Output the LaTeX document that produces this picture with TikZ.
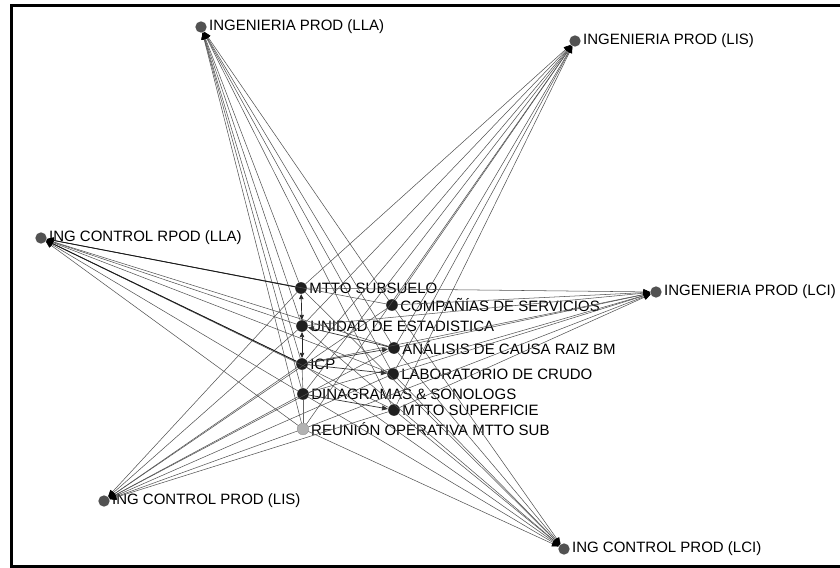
\documentclass[tikz,border=0pt]{standalone}
\usepackage{fontspec}
\setmainfont{Liberation Sans}
\usetikzlibrary{arrows.meta}
\tikzset{
  outer/.style={circle, fill=black!68, inner sep=0pt, minimum size=0.34cm},
  inner/.style={circle, fill=black!88, inner sep=0pt, minimum size=0.35cm},
  faint/.style={circle, fill=black!30, draw=black!45, line width=0.3pt, inner sep=0pt, minimum size=0.35cm},
  lbl/.style={font=\fontsize{12.8}{15}\selectfont, inner sep=0pt},
  tie/.style={-{Triangle[length=2mm,width=1.7mm,black]}, line width=0.45pt, draw=black!68},
  link/.style={{Triangle[length=1.5mm,width=1.3mm]}-{Triangle[length=1.5mm,width=1.3mm]}, line width=0.6pt, draw=black!85},
  oneway/.style={-{Triangle[length=1.8mm,width=1.5mm]}, line width=0.6pt, draw=black!80}
}

\begin{document}
\begin{tikzpicture}[x=0.03cm, y=-0.03cm, label distance=0.06cm]
  \useasboundingbox (0,0) rectangle (840,568);
  \draw[line width=0.09cm] (842,5.5) -| (11.5,566.5) -- (842,566.5);

  % outer nodes
  \node[outer, label={[lbl]right:INGENIERIA PROD (LLA)}] (lla) at (201,27) {};
  \node[outer, label={[lbl]right:INGENIERIA PROD (LIS)}] (lis) at (575,41) {};
  \node[outer, label={[lbl]right:ING CONTROL RPOD (LLA)}] (rla) at (41,238) {};
  \node[outer, label={[lbl]right:INGENIERIA PROD (LCI)}] (lci) at (656,292) {};
  \node[outer, label={[lbl]right:ING CONTROL PROD (LIS)}] (cis) at (104,501) {};
  \node[outer, label={[lbl]right:ING CONTROL PROD (LCI)}] (cci) at (564,549) {};

  % inner nodes
  \node[inner, label={[lbl]right:MTTO SUBSUELO}] (sub) at (301,288) {};
  \node[inner, label={[lbl]right:COMPAÑÍAS DE SERVICIOS}] (com) at (392,305) {};
  \node[inner, label={[lbl]right:UNIDAD DE ESTADISTICA}] (est) at (302,326) {};
  \node[inner, label={[lbl]right:ANÁLISIS DE CAUSA RAIZ BM}] (ana) at (394,348) {};
  \node[inner, label={[lbl]right:ICP}] (icp) at (302,364) {};
  \node[inner, label={[lbl]right:LABORATORIO DE CRUDO}] (lab) at (393,374) {};
  \node[inner, label={[lbl]right:DINAGRAMAS \& SONOLOGS}] (din) at (303,394) {};
  \node[inner, label={[lbl]right:MTTO SUPERFICIE}] (sup) at (394,410) {};
  \node[faint, label={[lbl]right:REUNIÓN OPERATIVA MTTO SUB}] (reu) at (303,429) {};

  % every unit reports to every area
  \foreach \o in {lla,lis,rla,lci,cis,cci}
    \foreach \i in {sub,com,est,ana,icp,lab,din,sup,reu}
      \draw[tie] (\i) -- (\o);

  \draw[tie, draw=black!90, line width=0.7pt] (sub) -- (rla);
  \draw[tie, draw=black!90, line width=0.7pt] (icp) -- (rla);

  % links inside the cluster
  \draw[link] (sub) -- (est);
  \draw[link] (est) -- (icp);
  \draw[oneway] (icp) -- (lab);
  \draw[oneway] (icp) -- (ana);
  \draw[oneway] (ana) -- (est);
  \draw[oneway] (din) -- (sup);
  \draw[line width=0.5pt, draw=black!60] (icp) -- (din);
  \draw[line width=0.5pt, draw=black!60] (din) -- (reu);
\end{tikzpicture}
\end{document}
